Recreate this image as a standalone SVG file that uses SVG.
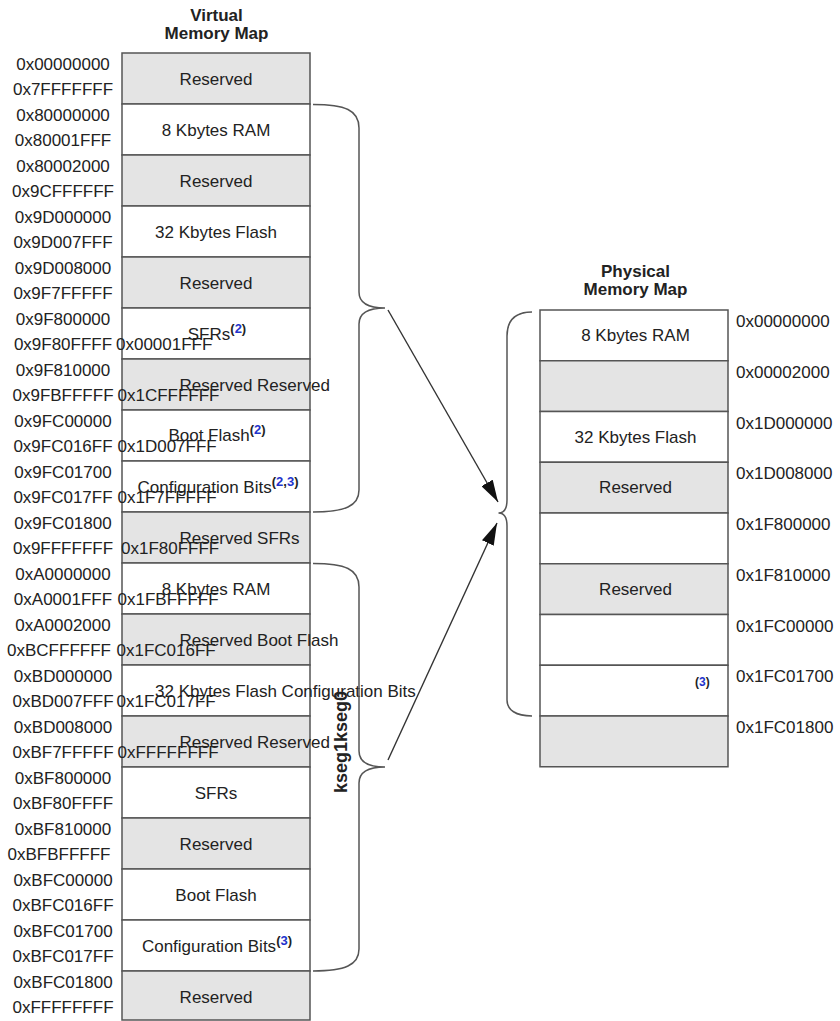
<svg xmlns="http://www.w3.org/2000/svg" width="840" height="1021" viewBox="0 0 840 1021">
<style>
text{font-family:"Liberation Sans",Arial,sans-serif;fill:#222;}
.t{font-size:17px;font-weight:bold;}
.a{font-size:17px;}
.am{font-size:17px;text-anchor:middle;}
.c{font-size:17px;text-anchor:middle;}
.cs{font-size:17px;}
.sup{font-size:13px;font-weight:bold;}
.blue{fill:#2233cc;}
.g{fill:#e4e4e4;stroke:#555;stroke-width:1.5;}
.w{fill:#fff;stroke:#555;stroke-width:1.5;}
.br{fill:none;stroke:#555;stroke-width:1.5;}
.ar{fill:none;stroke:#333;stroke-width:1.4;}
.k{font-size:18px;font-weight:bold;}
</style>
<defs>
<marker id="ah" markerUnits="userSpaceOnUse" markerWidth="22" markerHeight="13" refX="22" refY="6.5" orient="auto">
<path d="M0,0 L22,6.5 L0,13 z" fill="#111"/>
</marker>
</defs>
<rect width="840" height="1021" fill="#fff"/>
<g id="titles">
<text class="t" x="216.5" y="20.5" text-anchor="middle">Virtual</text>
<text class="t" x="216.5" y="38.5" text-anchor="middle">Memory Map</text>
<text class="t" x="635.5" y="276.5" text-anchor="middle">Physical</text>
<text class="t" x="635.5" y="295" text-anchor="middle">Memory Map</text>
</g>
<g id="virtual-map">
<g id="v0"><rect class="g" x="122" y="53" width="188" height="51"/><text class="am" x="63" y="70">0x00000000</text><text class="am" x="63" y="95">0x7FFFFFFF</text><text class="c" x="216" y="84.5">Reserved</text></g>
<g id="v1"><rect class="w" x="122" y="104" width="188" height="51"/><text class="am" x="63" y="121">0x80000000</text><text class="am" x="63" y="146">0x80001FFF</text><text class="c" x="216" y="135.5">8 Kbytes RAM</text></g>
<g id="v2"><rect class="g" x="122" y="155" width="188" height="51"/><text class="am" x="63" y="172">0x80002000</text><text class="am" x="63" y="197">0x9CFFFFFF</text><text class="c" x="216" y="186.5">Reserved</text></g>
<g id="v3"><rect class="w" x="122" y="206" width="188" height="51"/><text class="am" x="63" y="223">0x9D000000</text><text class="am" x="63" y="248">0x9D007FFF</text><text class="c" x="216" y="237.5">32 Kbytes Flash</text></g>
<g id="v4"><rect class="g" x="122" y="257" width="188" height="51"/><text class="am" x="63" y="274">0x9D008000</text><text class="am" x="63" y="299">0x9F7FFFFF</text><text class="c" x="216" y="288.5">Reserved</text></g>
<g id="v5"><rect class="w" x="122" y="308" width="188" height="51"/><text class="am" x="63" y="325">0x9F800000</text><text class="am" x="63" y="350">0x9F80FFFF</text><text class="a" x="116" y="350">0x00001FFF</text><text class="c" x="217" y="339.5">SFRs<tspan class="sup" dy="-7">(</tspan><tspan class="sup blue">2</tspan><tspan class="sup">)</tspan></text></g>
<g id="v6"><rect class="g" x="122" y="359" width="188" height="51"/><text class="am" x="63" y="376">0x9F810000</text><text class="am" x="63" y="401">0x9FBFFFFF</text><text class="a" x="117.5" y="401">0x1CFFFFFF</text><text class="cs" x="179.6" y="390.5">Reserved Reserved</text></g>
<g id="v7"><rect class="w" x="122" y="410" width="188" height="51"/><text class="am" x="63" y="427">0x9FC00000</text><text class="am" x="63" y="452">0x9FC016FF</text><text class="a" x="117.5" y="452">0x1D007FFF</text><text class="c" x="217" y="440.5">Boot Flash<tspan class="sup" dy="-7">(</tspan><tspan class="sup blue">2</tspan><tspan class="sup">)</tspan></text></g>
<g id="v8"><rect class="w" x="122" y="461" width="188" height="51"/><text class="am" x="63" y="478">0x9FC01700</text><text class="am" x="63" y="503">0x9FC017FF</text><text class="a" x="117.5" y="503">0x1F7FFFFF</text><text class="c" x="218" y="492.5">Configuration Bits<tspan class="sup" dy="-7">(</tspan><tspan class="sup blue">2</tspan><tspan class="sup">,</tspan><tspan class="sup blue">3</tspan><tspan class="sup">)</tspan></text></g>
<g id="v9"><rect class="g" x="122" y="512" width="188" height="51"/><text class="am" x="63" y="529">0x9FC01800</text><text class="am" x="63" y="554">0x9FFFFFFF</text><text class="a" x="121" y="554">0x1F80FFFF</text><text class="cs" x="179.6" y="543.5">Reserved SFRs</text></g>
<g id="v10"><rect class="w" x="122" y="563" width="188" height="51"/><text class="am" x="63" y="580">0xA0000000</text><text class="am" x="63" y="605">0xA0001FFF</text><text class="a" x="117.5" y="605">0x1FBFFFFF</text><text class="c" x="216" y="594.5">8 Kbytes RAM</text></g>
<g id="v11"><rect class="g" x="122" y="614" width="188" height="51"/><text class="am" x="63" y="631">0xA0002000</text><text class="am" x="59" y="656">0xBCFFFFFF</text><text class="a" x="116.5" y="656">0x1FC016FF</text><text class="cs" x="179.6" y="645.5">Reserved Boot Flash</text></g>
<g id="v12"><rect class="w" x="122" y="665" width="188" height="51"/><text class="am" x="63" y="682">0xBD000000</text><text class="am" x="63" y="707">0xBD007FFF</text><text class="a" x="116.5" y="707">0x1FC017FF</text><text class="cs" x="155" y="696.5">32 Kbytes Flash Configuration Bits</text></g>
<g id="v13"><rect class="g" x="122" y="716" width="188" height="51"/><text class="am" x="63" y="733">0xBD008000</text><text class="am" x="63" y="758">0xBF7FFFFF</text><text class="a" x="117.5" y="758">0xFFFFFFFF</text><text class="cs" x="179.6" y="747.5">Reserved Reserved</text></g>
<g id="v14"><rect class="w" x="122" y="767" width="188" height="51"/><text class="am" x="63" y="784">0xBF800000</text><text class="am" x="63" y="809">0xBF80FFFF</text><text class="c" x="216" y="798.5">SFRs</text></g>
<g id="v15"><rect class="g" x="122" y="818" width="188" height="51"/><text class="am" x="63" y="835">0xBF810000</text><text class="am" x="59" y="860">0xBFBFFFFF</text><text class="c" x="216" y="849.5">Reserved</text></g>
<g id="v16"><rect class="w" x="122" y="869" width="188" height="51"/><text class="am" x="63" y="886">0xBFC00000</text><text class="am" x="63" y="911">0xBFC016FF</text><text class="c" x="216" y="900.5">Boot Flash</text></g>
<g id="v17"><rect class="w" x="122" y="920" width="188" height="51"/><text class="am" x="63" y="937">0xBFC01700</text><text class="am" x="63" y="962">0xBFC017FF</text><text class="c" x="217" y="951.5">Configuration Bits<tspan class="sup" dy="-7">(</tspan><tspan class="sup blue">3</tspan><tspan class="sup">)</tspan></text></g>
<g id="v18"><rect class="g" x="122" y="971" width="188" height="49"/><text class="am" x="63" y="988">0xBFC01800</text><text class="am" x="63" y="1013">0xFFFFFFFF</text><text class="c" x="216" y="1002.5">Reserved</text></g>
</g>
<g id="physical-map">
<g id="p0"><rect class="w" x="540" y="310" width="188" height="50.75"/><text class="a" x="736" y="327">0x00000000</text><text class="c" x="635.5" y="340.5">8 Kbytes RAM</text></g>
<g id="p1"><rect class="g" x="540" y="360.75" width="188" height="50.75"/><text class="a" x="736" y="377.75">0x00002000</text></g>
<g id="p2"><rect class="w" x="540" y="411.5" width="188" height="50.75"/><text class="a" x="736" y="428.5">0x1D000000</text><text class="c" x="635.5" y="442.5">32 Kbytes Flash</text></g>
<g id="p3"><rect class="g" x="540" y="462.25" width="188" height="50.75"/><text class="a" x="736" y="479.25">0x1D008000</text><text class="c" x="635.5" y="493.25">Reserved</text></g>
<g id="p4"><rect class="w" x="540" y="513" width="188" height="50.75"/><text class="a" x="736" y="530">0x1F800000</text></g>
<g id="p5"><rect class="g" x="540" y="563.75" width="188" height="50.75"/><text class="a" x="736" y="580.75">0x1F810000</text><text class="c" x="635.5" y="594.75">Reserved</text></g>
<g id="p6"><rect class="w" x="540" y="614.5" width="188" height="50.75"/><text class="a" x="736" y="631.5">0x1FC00000</text></g>
<g id="p7"><rect class="w" x="540" y="665.25" width="188" height="50.75"/><text class="a" x="736" y="682.25">0x1FC01700</text><text x="695" y="686" style="font-size:12px;font-weight:bold">(<tspan class="blue">3</tspan>)</text></g>
<g id="p8"><rect class="g" x="540" y="716" width="188" height="50.75"/><text class="a" x="736" y="733">0x1FC01800</text></g>
</g>
<g id="kseg-labels">
<text class="k" transform="translate(347,793) rotate(-90)">kseg1</text>
<text class="k" transform="translate(347,742) rotate(-90)">kseg0</text>
</g>
<g id="connectors">
<path class="br" d="M313,104.5 C345,104.5 359,110 359,128 L359,292 C359,302 366,308 385,308 C366,308 359,314 359,324 L359,490 C359,506 345,512 313,512"/>
<path class="br" d="M313,563.5 C345,563.5 359,569 359,587 L359,751 C359,761 366,767 385,767 C366,767 359,773 359,783 L359,949 C359,965 345,971 313,971"/>
<path class="br" d="M532,312 C516,312 507,320 507,336 L507,500 C507,508 504,513 498.5,513 C504,513 507,518 507,526 L507,700 C507,710 516,716 532,716"/>
<line class="ar" x1="388" y1="310" x2="498" y2="502" marker-end="url(#ah)"/>
<line class="ar" x1="388" y1="760" x2="497" y2="523" marker-end="url(#ah)"/>
</g>
</svg>
